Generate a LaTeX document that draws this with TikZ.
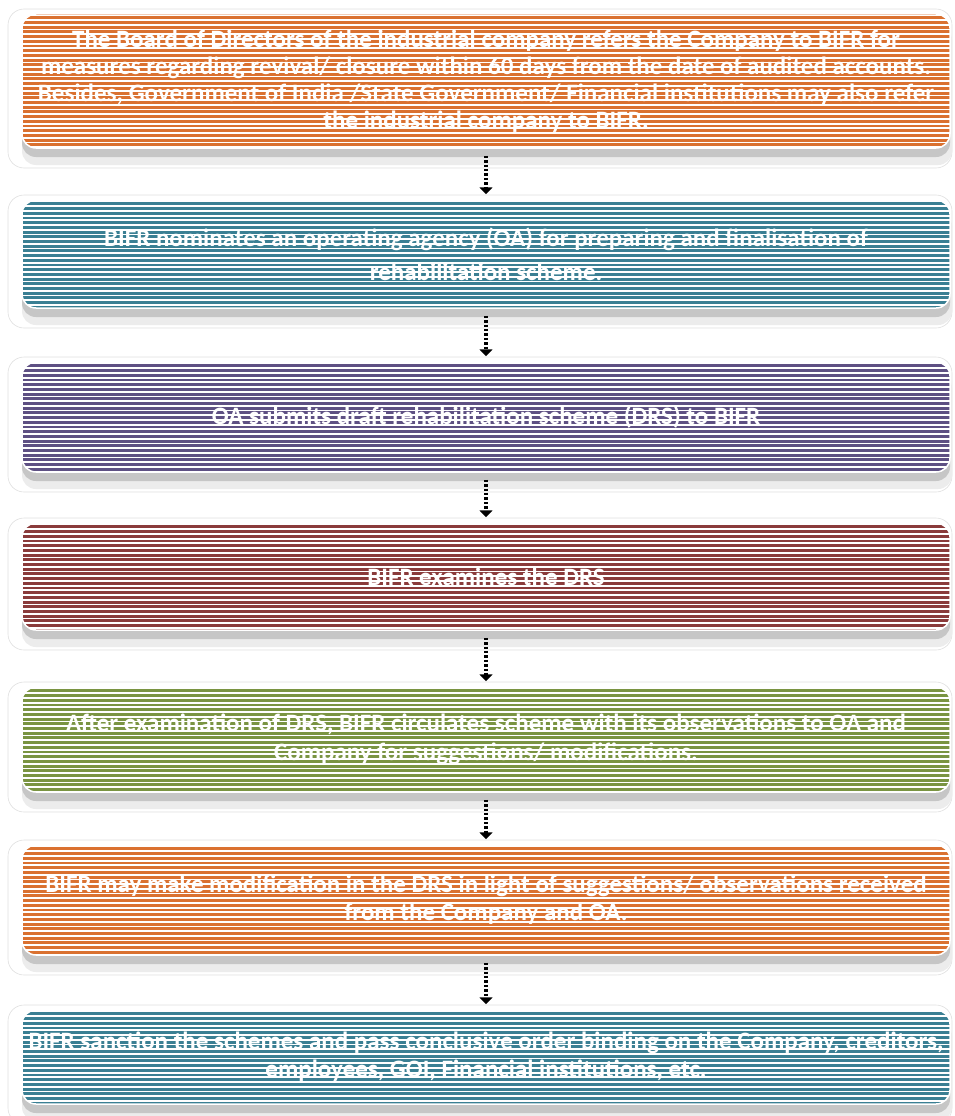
\documentclass[tikz,border=0pt]{standalone}
\usepackage{fontspec}
\setmainfont{Carlito}
\usetikzlibrary{arrows.meta}
\definecolor{corange}{RGB}{218,113,48}
\definecolor{cteal}{RGB}{58,127,147}
\definecolor{cpurple}{RGB}{94,80,131}
\definecolor{cred}{RGB}{138,59,59}
\definecolor{cgreen}{RGB}{122,148,66}
\tikzset{
  stepbox/.style={rounded corners=14pt, draw=white, line width=1.5pt,
    minimum width=928pt, inner sep=0pt, text=white, align=center,
    path picture={
      \foreach \k in {0,...,30}{
        \draw[white, line width=1.8pt]
          ([yshift=-\k*4.7pt-1.5pt]path picture bounding box.north west) --
          ([yshift=-\k*4.7pt-1.5pt]path picture bounding box.north east);
      }}},
  frame/.style={rounded corners=16pt, fill=white, draw=gray!25, line width=0.6pt},
  shade1/.style={rounded corners=14pt, fill=gray!15},
  shade2/.style={rounded corners=14pt, fill=gray!45},
  flow/.style={draw=black, line width=4pt, dash pattern=on 2.4pt off 2pt,
    -{Triangle[width=13pt,length=7pt]}, shorten <=7pt, shorten >=5pt}
}
\newcommand{\stepat}[6]{%
  % #1 name, #2 colour, #3 top, #4 bottom, #5 text, #6 baselineskip
  \path[frame] (8,#3-5) rectangle (952,#4+20);
  \path[shade1] (22,#3+12) rectangle (952,#4+17);
  \path[shade2] (22,#3+8) rectangle (950,#4+9);
  \node[stepbox, fill=#2, minimum height=#4-#3 pt, font=\fontsize{25}{#6}\selectfont\bfseries]
    (#1) at (486,{(#3+#4)/2}) {#5};
}
\begin{document}
\begin{tikzpicture}[x=1pt,y=-1pt]
\useasboundingbox (0,0) rectangle (954,1116);
\stepat{b1}{corange}{14}{148}{The Board of Directors of the industrial company refers the Company to BIFR for\\measures regarding revival/ closure within 60 days from the date of audited accounts.\\Besides, Government of India /State Government/ Financial institutions may also refer\\the industrial company to BIFR.}{27}
\stepat{b2}{cteal}{200}{308}{BIFR nominates an operating agency (OA) for preparing and finalisation of\\rehabilitation scheme.}{34}
\stepat{b3}{cpurple}{362}{472}{OA submits draft rehabilitation scheme (DRS) to BIFR}{28}
\stepat{b4}{cred}{523}{630}{BIFR examines the DRS}{28}
\stepat{b5}{cgreen}{687}{792}{After examination of DRS, BIFR circulates scheme with its observations to OA and\\Company for suggestions/ modifications.}{29}
\stepat{b6}{corange}{845}{955}{BIFR may make modification in the DRS in light of suggestions/ observations received\\from the Company and OA.}{28}
\stepat{b7}{cteal}{1010}{1104}{BIFR sanction the schemes and pass conclusive order binding on the Company, creditors,\\employees, GOI, Financial institutions, etc.}{28}
\draw[flow] (b1.south) -- (b2.north);
\draw[flow] (b2.south) -- (b3.north);
\draw[flow] (b3.south) -- (b4.north);
\draw[flow] (b4.south) -- (b5.north);
\draw[flow] (b5.south) -- (b6.north);
\draw[flow] (b6.south) -- (b7.north);
\end{tikzpicture}
\end{document}
